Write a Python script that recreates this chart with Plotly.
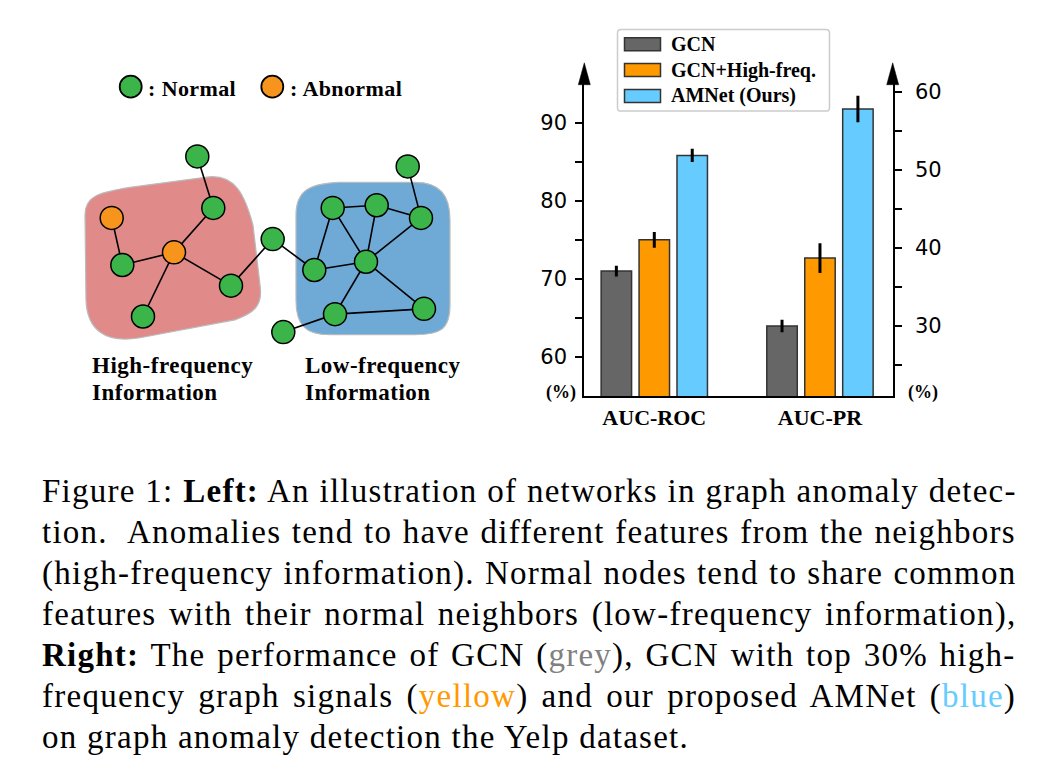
import plotly.graph_objects as go

W, H = 1056, 780
OX, OY = 8, 10  # page offset of the plot div inside the browser window

# ---------------- bar chart data ----------------
categories = ["AUC-ROC", "AUC-PR"]
methods = ["GCN", "GCN+High-freq.", "AMNet (Ours)"]
roc_values = [71.0, 75.0, 85.8]
roc_errors = [0.7, 1.0, 0.85]
pr_values = [30.0, 38.7, 57.8]
pr_errors = [0.8, 1.9, 1.7]
left_ticks = [60, 70, 80, 90]
left_minor = [65, 75, 85]
right_ticks = [30, 40, 50, 60]
right_minor = [25, 35, 45, 55]
bar_colors = ["#666666", "#FF9900", "#66CCFF"]

# ---------------- illustration data ----------------
node_names = ["N1", "N2", "A1", "A2", "N3", "N4", "N5", "N6",
              "B1", "B2", "B3", "B4", "B5", "B6", "B7", "B8", "N9"]
node_x = [197.3, 213.3, 111.7, 174.0, 122.3, 231.0, 143.0, 272.7,
          332.7, 376.7, 407.7, 421.0, 314.3, 366.0, 335.0, 424.0, 283.3]
node_y = [156.0, 207.7, 217.7, 252.3, 265.0, 285.7, 316.7, 239.0,
          207.7, 205.0, 166.0, 217.7, 270.0, 261.7, 314.3, 309.0, 332.3]
node_kind = ["normal", "normal", "abnormal", "abnormal", "normal", "normal", "normal", "normal",
             "normal", "normal", "normal", "normal", "normal", "normal", "normal", "normal", "normal"]
edges = [("N1", "N2"), ("N2", "A2"), ("A1", "N3"), ("N3", "A2"), ("A2", "N5"), ("A2", "N4"),
         ("N4", "N6"), ("N6", "B5"), ("B5", "B1"), ("B5", "B6"), ("B1", "B2"), ("B1", "B6"),
         ("B2", "B6"), ("B2", "B4"), ("B4", "B3"), ("B4", "B6"), ("B6", "B7"), ("B6", "B8"),
         ("B7", "B8"), ("B7", "N9")]
kind_labels = [": Normal", ": Abnormal"]
region_labels = [["High-frequency", "Information"], ["Low-frequency", "Information"]]

caption_lines = [
    "Figure 1: <b>Left:</b> An illustration of networks in graph anomaly detec-",
    "tion.  Anomalies tend to have different features from the neighbors",
    "(high-frequency information). Normal nodes tend to share common",
    "features with their normal neighbors (low-frequency information),",
    "<b>Right:</b> The performance of GCN (<span style=\"color:#808080\">grey</span>), GCN with top 30% high-",
    "frequency graph signals (<span style=\"color:#FF9900\">yellow</span>) and our proposed AMNet (<span style=\"color:#66CCFF\">blue</span>)",
    "on graph anomaly detection the Yelp dataset.",
]
caption_word_spacing = [0.2, 1.0, 0.7, 3.0, 2.2, 3.7, 0]

NODE_COLORS = {"normal": "#3BB44A", "abnormal": "#F7941E"}
SERIF = "Liberation Serif"

fig = go.Figure()

# ---------------- bars ----------------
for i, m in enumerate(methods):
    fig.add_trace(go.Bar(
        x=[categories[0]], y=[roc_values[i]], name=m,
        error_y=dict(type="data", array=[roc_errors[i]], color="black", thickness=3, width=0),
        marker=dict(color=bar_colors[i], line=dict(color="#333333", width=1.5)),
        offsetgroup=str(i), xaxis="x", yaxis="y", showlegend=False))
    fig.add_trace(go.Bar(
        x=[categories[1]], y=[pr_values[i]], name=m,
        error_y=dict(type="data", array=[pr_errors[i]], color="black", thickness=3, width=0),
        marker=dict(color=bar_colors[i], line=dict(color="#333333", width=1.5)),
        offsetgroup=str(i), xaxis="x", yaxis="y2", showlegend=False))

# ---------------- illustration (page-pixel overlay axes) ----------------
idx = {n: k for k, n in enumerate(node_names)}
ex, ey = [], []
for a, b in edges:
    ex += [node_x[idx[a]], node_x[idx[b]], None]
    ey += [node_y[idx[a]], node_y[idx[b]], None]
fig.add_trace(go.Scatter(x=ex, y=ey, mode="lines", line=dict(color="black", width=1.6),
                         xaxis="x3", yaxis="y3", showlegend=False, hoverinfo="skip"))
fig.add_trace(go.Scatter(
    x=node_x, y=node_y, mode="markers",
    marker=dict(size=23, color=[NODE_COLORS[k] for k in node_kind], line=dict(color="black", width=1.5)),
    xaxis="x3", yaxis="y3", showlegend=False, hoverinfo="skip"))
leg_x = [130.7, 272.3]
fig.add_trace(go.Scatter(
    x=leg_x, y=[86, 86], mode="markers",
    marker=dict(size=22, color=[NODE_COLORS["normal"], NODE_COLORS["abnormal"]], line=dict(color="black", width=1.8)),
    xaxis="x3", yaxis="y3", showlegend=False, hoverinfo="skip"))

shapes = []
shapes.append(dict(type="path", xref="x3", yref="y3", layer="below",
                   path="M 85,215 C 85,195 100,192 130,187 L 205,177 C 235,172 245,195 253,225 "
                        "L 260,285 C 263,305 255,313 235,320 L 140,338 C 105,344 87,330 86,300 Z",
                   fillcolor="#E08A8A", line=dict(color="#BBBBBB", width=1.2)))
shapes.append(dict(type="path", xref="x3", yref="y3", layer="below",
                   path="M 296,215 C 296,190 310,183 340,182 L 415,182 C 440,182 450,195 450,220 "
                        "L 450,305 C 450,330 440,335 415,335 L 330,335 C 305,335 296,325 296,300 Z",
                   fillcolor="#6FAAD6", line=dict(color="#BBBBBB", width=1.2)))

ax_left, ax_right, ax_bottom, ax_top = 584.3, 892.7, 396.7, 83.0
for xa in (ax_left, ax_right):
    shapes.append(dict(type="path", xref="x3", yref="y3",
                       path=f"M {xa-6},{ax_top+1} L {xa},62 L {xa+6},{ax_top+1} Z",
                       fillcolor="black", line=dict(color="black", width=0.5)))

shapes.append(dict(type="path", xref="x3", yref="y3",
                   path="M 621,28.5 L 826,28.5 Q 829.5,28.5 829.5,32 L 829.5,107 Q 829.5,110.5 826,110.5 "
                        "L 621,110.5 Q 617.5,110.5 617.5,107 L 617.5,32 Q 617.5,28.5 621,28.5 Z",
                   fillcolor="white", line=dict(color="#CCCCCC", width=1.5)))
annotations = []
leg_rows = [43.3, 69.3, 95.3]
for i, m in enumerate(methods):
    shapes.append(dict(type="rect", xref="x3", yref="y3", x0=624.5, x1=660.5,
                       y0=leg_rows[i] - 6.5, y1=leg_rows[i] + 6.5,
                       fillcolor=bar_colors[i], line=dict(color="#333333", width=1.5)))
    annotations.append(dict(xref="x3", yref="y3", x=669, y=leg_rows[i], text=m, showarrow=False,
                            xanchor="left", yanchor="middle",
                            font=dict(family=SERIF, size=20, color="black", weight="bold")))

for xp in (561, 922.5):
    annotations.append(dict(xref="x3", yref="y3", x=xp, y=392.5, text="(%)", showarrow=False,
                            xanchor="center", yanchor="middle",
                            font=dict(family=SERIF, size=18, color="black", weight="bold")))

for xk, t in zip(leg_x, kind_labels):
    annotations.append(dict(xref="x3", yref="y3", x=xk + 15.5, y=87.5,
                            text=f"<span style=\"letter-spacing:0.4px\">{t}</span>", showarrow=False,
                            xanchor="left", yanchor="middle",
                            font=dict(family=SERIF, size=22, color="black", weight="bold")))
for xr, lines in zip([90, 303], region_labels):
    for j, t in enumerate(lines):
        annotations.append(dict(xref="x3", yref="y3", x=xr, y=365.5 + 27 * j,
                                text=f"<span style=\"letter-spacing:0.5px\">{t}</span>", showarrow=False,
                                xanchor="left", yanchor="middle",
                                font=dict(family=SERIF, size=23, color="black", weight="bold")))

cap_y0, cap_dy = 492.2, 41.1
for j, t in enumerate(caption_lines):
    txt = (f"<span style=\"letter-spacing:1.25px;word-spacing:{caption_word_spacing[j]}px\">"
           f"{t}</span>")
    annotations.append(dict(xref="x3", yref="y3", x=40, y=cap_y0 + cap_dy * j, text=txt, showarrow=False,
                            xanchor="left", yanchor="middle",
                            font=dict(family=SERIF, size=33, color="black")))

tick_font = dict(family="DejaVu Sans", size=21, color="black")
fig.update_layout(
    width=W, height=H, margin=dict(l=0, r=0, t=0, b=0),
    paper_bgcolor="white", plot_bgcolor="rgba(0,0,0,0)",
    barmode="group", bargap=0.313, bargroupgap=0.197,
    showlegend=False,
    xaxis=dict(domain=[(ax_left - OX) / W, (ax_right - OX) / W], anchor="y", type="category",
               categoryorder="array", categoryarray=categories, range=[-0.4225, 1.439],
               showline=True, linecolor="black", linewidth=2, ticks="", showgrid=False, zeroline=False,
               tickfont=dict(family=SERIF, size=22, color="black", weight="bold"), fixedrange=True),
    yaxis=dict(domain=[1 - (ax_bottom - OY) / H, 1 - (ax_top - OY) / H], anchor="x", range=[55.0, 94.97],
               tickmode="array", tickvals=left_ticks, ticks="outside", ticklen=7, tickwidth=1.5,
               tickcolor="black", showline=True, linecolor="black", linewidth=2,
               showgrid=False, zeroline=False, tickfont=tick_font, ticklabelstandoff=4,
               minor=dict(tickmode="array", tickvals=left_minor, ticks="outside", ticklen=7,
                          tickwidth=1.5, tickcolor="black"), fixedrange=True),
    yaxis2=dict(overlaying="y", side="right", anchor="x", range=[21.0, 61.05],
                tickmode="array", tickvals=right_ticks, ticks="outside", ticklen=7, tickwidth=1.5,
                tickcolor="black", showline=True, linecolor="black", linewidth=2,
                showgrid=False, zeroline=False, tickfont=tick_font, ticklabelstandoff=9,
                minor=dict(tickmode="array", tickvals=right_minor, ticks="outside", ticklen=7,
                           tickwidth=1.5, tickcolor="black"), fixedrange=True),
    xaxis3=dict(domain=[0, 1], range=[OX, W + OX], visible=False, anchor="y3", fixedrange=True),
    yaxis3=dict(domain=[0, 1], range=[H + OY, OY], visible=False, anchor="x3", fixedrange=True),
    shapes=shapes, annotations=annotations,
)

fig.write_html("out.html")
